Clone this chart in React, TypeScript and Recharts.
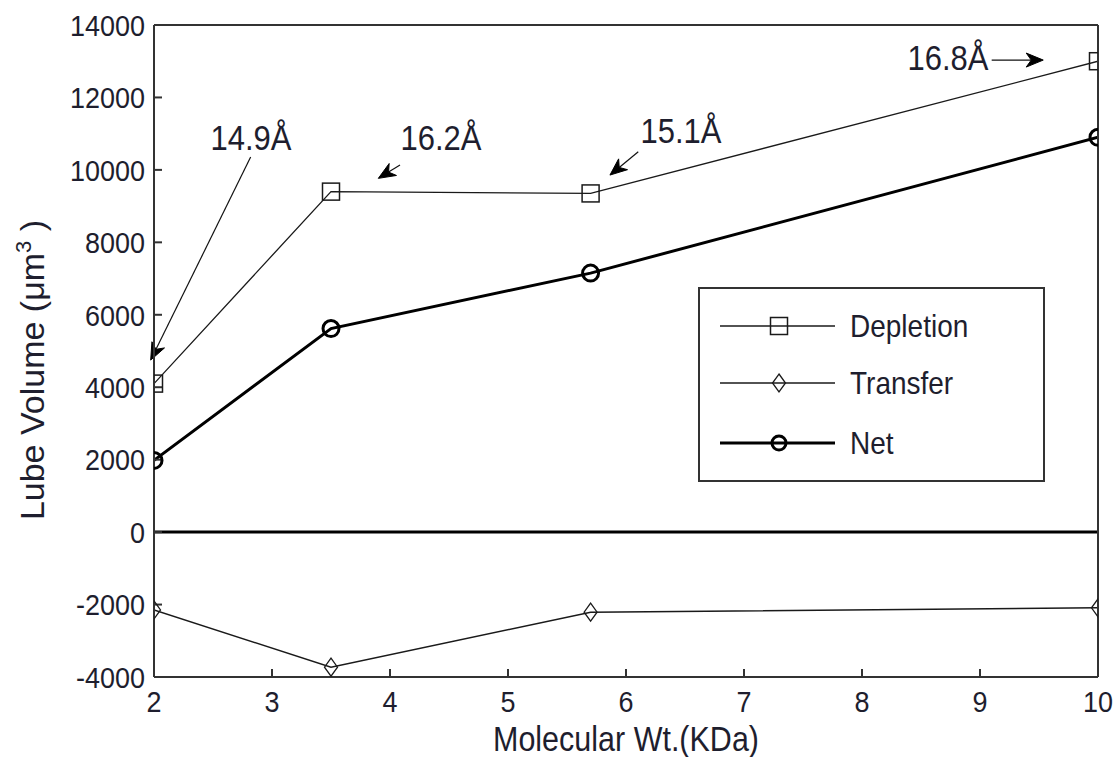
import React from 'react';
import { LineChart, Line, XAxis, YAxis, ReferenceLine, ReferenceDot, Legend, Label } from 'recharts';

const molecularWt = [2, 3.5, 5.7, 10];
const depletion = [4100, 9400, 9350, 13000];
const transfer = [-2150, -3730, -2210, -2090];
const net = [1980, 5620, 7150, 10900];
const seriesNames = ['Depletion', 'Transfer', 'Net'];

const xTicks = [2, 3, 4, 5, 6, 7, 8, 9, 10];
const yTicks = [-4000, -2000, 0, 2000, 4000, 6000, 8000, 10000, 12000, 14000];

const annotationTexts = ['14.9\u00C5', '16.2\u00C5', '15.1\u00C5', '16.8\u00C5'];
const annotationTextX = [2.822, 4.432, 6.466, 8.729];
const annotationTextY = [10547, 10547, 10740, 12756];
const arrowFromX = [2.819, 4.085, 6.104, 9.099];
const arrowFromY = [10353, 10133, 10500, 13032];
const arrowToX = [1.972, 3.901, 5.864, 9.536];
const arrowToY = [4749, 9766, 9857, 13032];

const data = molecularWt.map((x, i) => ({
  x,
  depletion: depletion[i],
  transfer: transfer[i],
  net: net[i],
}));

const FONT = '"Liberation Sans", Arial, Helvetica, sans-serif';
const TEXT = '#1e1e2e';
const AXIS = '#333333';
const SY = 1.12;

const StretchText = (p: { x: number; y: number; anchor: string; size: number; children: any }) => (
  <g transform={`translate(${p.x},${p.y}) scale(1,${SY})`}>
    <text x={0} y={0} textAnchor={p.anchor as any} fontFamily={FONT} fontSize={p.size} fill={TEXT}>{p.children}</text>
  </g>
);

const XTick = (props: any) => {
  const { x, y, payload } = props;
  return <StretchText x={x} y={y + 0.716 * 27 * SY} anchor="middle" size={27}>{payload.value}</StretchText>;
};
const YTick = (props: any) => {
  const { x, y, payload } = props;
  return <StretchText x={x} y={y + 0.358 * 27 * SY} anchor="end" size={27}>{payload.value}</StretchText>;
};

const SquareDot = (props: any) => {
  const { cx, cy, index } = props;
  return <rect key={`sq-${index}`} x={cx - 8.5} y={cy - 8.5} width={17} height={17} fill="none" stroke="#1a1a1a" strokeWidth={1.5} />;
};
const DiamondDot = (props: any) => {
  const { cx, cy, index } = props;
  return (
    <polygon key={`dm-${index}`} points={`${cx},${cy - 9} ${cx + 6.5},${cy} ${cx},${cy + 9} ${cx - 6.5},${cy}`}
      fill="none" stroke="#1a1a1a" strokeWidth={1.3} />
  );
};
const CircleDot = (props: any) => {
  const { cx, cy, index } = props;
  return <circle key={`cr-${index}`} cx={cx} cy={cy} r={8} fill="none" stroke="#000" strokeWidth={3} />;
};

const ArrowShape = (p: any) => {
  const { x1, y1, x2, y2 } = p;
  const dx = x2 - x1, dy = y2 - y1;
  const len = Math.hypot(dx, dy) || 1;
  const ux = dx / len, uy = dy / len;
  const nx = -uy, ny = ux;
  const L = 17, W = 7, notch = 5;
  const bx = x2 - ux * L, by = y2 - uy * L;
  const mx = x2 - ux * (L - notch), my = y2 - uy * (L - notch);
  const pts = [
    [x2, y2],
    [bx + nx * W, by + ny * W],
    [mx, my],
    [bx - nx * W, by - ny * W],
  ].map((q) => q.join(',')).join(' ');
  return (
    <g>
      <line x1={x1} y1={y1} x2={mx} y2={my} stroke="#111" strokeWidth={1.2} />
      <polygon points={pts} fill="#000" stroke="#000" strokeWidth={1} />
    </g>
  );
};

const makeTextShape = (txt: string) => (p: any) => (
  <StretchText x={p.cx} y={p.cy} anchor="middle" size={31}>{txt}</StretchText>
);

const XLabel = (props: any) => {
  const vb = props.viewBox || {};
  return (
    <StretchText x={vb.x + vb.width / 2} y={vb.y + vb.height - 6} anchor="middle" size={30.5}>
      Molecular Wt.(KDa)
    </StretchText>
  );
};

const YLabel = (props: any) => {
  const vb = props.viewBox || {};
  const x = vb.x + 44;
  const y = vb.y + vb.height / 2 + 19;
  return (
    <text x={x} y={y} transform={`rotate(-90, ${x}, ${y})`} textAnchor="middle" fontFamily={FONT} fontSize={34} fill={TEXT}>
      Lube Volume ({'\u03BC'}m<tspan dy={-13} fontSize={22}>3</tspan><tspan dy={13}> )</tspan>
    </text>
  );
};

const LegendBox = (props: any) => {
  const payload = props.payload || [];
  const rows = [39, 96, 156];
  const ordered = seriesNames
    .map((n) => payload.find((e: any) => e.value === n))
    .filter(Boolean);
  return (
    <svg width={347} height={195} style={{ display: 'block' }}>
      <rect x={1} y={1} width={345} height={193} fill="#fff" stroke={AXIS} strokeWidth={2} />
      {ordered.map((entry: any, i: number) => {
        const y = rows[i];
        const cx = 81;
        const name = entry.value;
        let marker: any = null;
        if (name === 'Depletion') marker = <rect x={cx - 8.5} y={y - 8.5} width={17} height={17} fill="none" stroke="#1a1a1a" strokeWidth={1.5} />;
        if (name === 'Transfer') marker = <polygon points={`${cx},${y - 9} ${cx + 6.5},${y} ${cx},${y + 9} ${cx - 6.5},${y}`} fill="none" stroke="#1a1a1a" strokeWidth={1.3} />;
        if (name === 'Net') marker = <circle cx={cx} cy={y} r={7} fill="none" stroke="#000" strokeWidth={3} />;
        const thick = name === 'Net';
        return (
          <g key={name}>
            <line x1={22} y1={y} x2={137} y2={y} stroke={thick ? '#000' : '#1a1a1a'} strokeWidth={thick ? 3 : 1.3} />
            {marker}
            <StretchText x={152} y={y + 11} anchor="start" size={28}>{name}</StretchText>
          </g>
        );
      })}
    </svg>
  );
};

export default function App() {
  return (
    <div style={{ position: 'absolute', left: 0, top: 0, width: 1116, height: 757, background: '#fff' }}>
      <LineChart width={1116} height={757} data={data} margin={{ top: 24, right: 17, bottom: 0, left: 0 }}>
        <XAxis dataKey="x" type="number" domain={[2, 10]} ticks={xTicks} allowDataOverflow
          height={80} tick={XTick} tickSize={-8} tickMargin={21}
          axisLine={{ stroke: AXIS, strokeWidth: 2 }} tickLine={{ stroke: AXIS, strokeWidth: 2 }}>
          <Label content={XLabel} />
        </XAxis>
        <XAxis xAxisId="top" orientation="top" dataKey="x" type="number" domain={[2, 10]} ticks={xTicks} allowDataOverflow
          height={1} tick={false} tickSize={-8}
          axisLine={{ stroke: AXIS, strokeWidth: 2 }} tickLine={{ stroke: AXIS, strokeWidth: 2 }} />
        <YAxis type="number" domain={[-4000, 14000]} ticks={yTicks} allowDataOverflow
          width={154} tick={YTick} tickSize={-8} tickMargin={17}
          axisLine={{ stroke: AXIS, strokeWidth: 2 }} tickLine={{ stroke: AXIS, strokeWidth: 2 }}>
          <Label content={YLabel} />
        </YAxis>
        <YAxis yAxisId="right" orientation="right" type="number" domain={[-4000, 14000]} ticks={yTicks} allowDataOverflow
          width={1} tick={false} tickSize={-8}
          axisLine={{ stroke: AXIS, strokeWidth: 2 }} tickLine={{ stroke: AXIS, strokeWidth: 2 }} />

        <ReferenceLine y={0} stroke="#000" strokeWidth={3} />

        <Line dataKey="depletion" name="Depletion" stroke="#1a1a1a" strokeWidth={1.3} dot={SquareDot} isAnimationActive={false} />
        <Line dataKey="transfer" name="Transfer" stroke="#1a1a1a" strokeWidth={1.5} dot={DiamondDot} isAnimationActive={false} />
        <Line dataKey="net" name="Net" stroke="#000" strokeWidth={3} dot={CircleDot} isAnimationActive={false} />

        {annotationTexts.map((t, i) => (
          <ReferenceLine key={`arr-${i}`} ifOverflow="visible"
            segment={[{ x: arrowFromX[i], y: arrowFromY[i] }, { x: arrowToX[i], y: arrowToY[i] }]}
            shape={ArrowShape} />
        ))}
        {annotationTexts.map((t, i) => (
          <ReferenceDot key={`txt-${i}`} x={annotationTextX[i]} y={annotationTextY[i]} r={0} ifOverflow="visible"
            shape={makeTextShape(t)} />
        ))}

        <Legend layout="vertical" align="center" verticalAlign="middle" content={LegendBox}
          wrapperStyle={{ left: 698, top: 287, width: 347, height: 195 }} />
      </LineChart>
    </div>
  );
}
